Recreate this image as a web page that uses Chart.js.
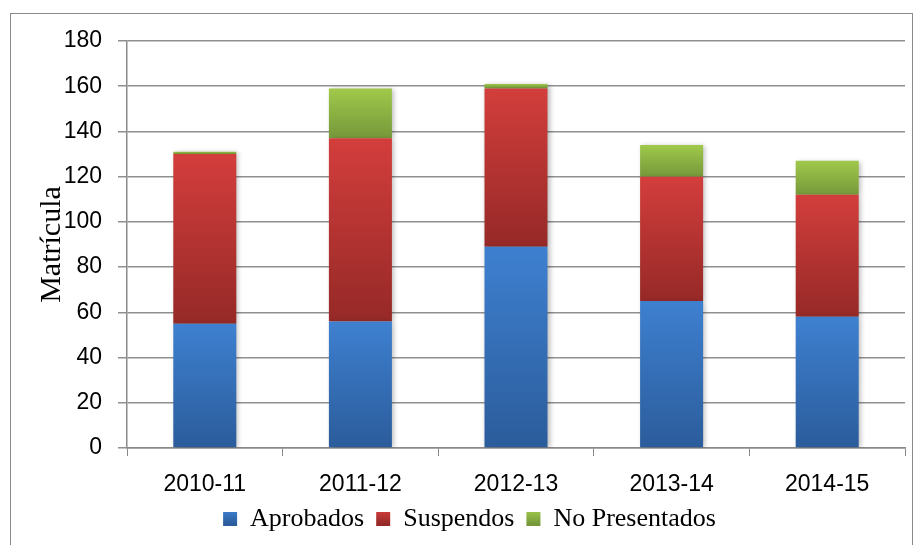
<!DOCTYPE html>
<html lang="es">
<head>
  <meta charset="UTF-8" />
  <title>Matrícula</title>
  <script src="https://cdn.jsdelivr.net/npm/chart.js"></script>
  <style>
    body { margin: 0; background: #fff; }
    #wrap { position: relative; width: 918px; height: 545px; overflow: hidden; }
    #frame { position: absolute; left: 10px; top: 13px; right: 5px; bottom: -5px; border: 1px solid #8a8a8a; pointer-events: none; }
  </style>
</head>
<body>
  <div id="wrap">
    <canvas id="chart" width="918" height="545"></canvas>
    <div id="frame"></div>
  </div>

  <script>
    const categories = ["2010-11", "2011-12", "2012-13", "2013-14", "2014-15"];
    const aprobados = [55, 56, 89, 65, 58];
    const suspendos = [75, 81, 70, 55, 54];
    const noPresentados = [1, 22, 2, 14, 15];
    const yTicks = [0, 20, 40, 60, 80, 100, 120, 140, 160, 180];

    const series = [aprobados, suspendos, noPresentados];
    const colors = [
      ["#3e80d0", "#2b5c9b"],
      ["#d33e3c", "#952927"],
      ["#a0c94b", "#76983a"]
    ];

    // gradient per segment, from the segment's own top to its bottom
    function segmentFill(k) {
      return function(ctx) {
        const chart = ctx.chart;
        if (!chart.chartArea || ctx.type !== "data") return colors[k][0];
        const i = ctx.dataIndex;
        let base = 0;
        for (let j = 0; j < k; j++) base += series[j][i];
        const top = base + series[k][i];
        const y = chart.scales.y;
        const y0 = y.getPixelForValue(top), y1 = y.getPixelForValue(base);
        if (!isFinite(y0) || !isFinite(y1) || y0 === y1) return colors[k][0];
        const g = chart.ctx.createLinearGradient(0, y0, 0, y1);
        g.addColorStop(0, colors[k][0]);
        g.addColorStop(1, colors[k][1]);
        return g;
      };
    }

    const shadow = {
      id: "shadow",
      beforeDatasetsDraw(chart) {
        const c = chart.ctx;
        c.save();
        c.shadowColor = "rgba(0,0,0,0.28)";
        c.shadowBlur = 5;
        c.shadowOffsetX = 2;
        c.shadowOffsetY = 1;
      },
      afterDatasetsDraw(chart) { chart.ctx.restore(); }
    };

    const names = ["Aprobados", "Suspendos", "No Presentados"];

    new Chart(document.getElementById("chart"), {
      type: "bar",
      data: {
        labels: categories,
        datasets: series.map((d, k) => ({
          label: names[k],
          data: d,
          backgroundColor: segmentFill(k),
          borderWidth: 0,
          categoryPercentage: 1,
          barPercentage: 0.405
        }))
      },
      plugins: [shadow],
      options: {
        responsive: false,
        animation: false,
        layout: { padding: { left: 34, right: 13, top: 41, bottom: 3 } },
        plugins: {
          tooltip: { enabled: false },
          legend: {
            position: "bottom",
            labels: {
              boxWidth: 14,
              boxHeight: 14,
              padding: 12,
              color: "#000",
              font: { family: "'Liberation Serif', 'Times New Roman', serif", size: 26 },
              generateLabels: chart => names.map((n, k) => {
                const g = chart.ctx.createLinearGradient(0, 510, 0, 524);
                g.addColorStop(0, colors[k][0]);
                g.addColorStop(1, colors[k][1]);
                return { text: n, fillStyle: g, strokeStyle: "rgba(0,0,0,0)", lineWidth: 0, datasetIndex: k, fontColor: "#000" };
              })
            }
          }
        },
        scales: {
          x: {
            stacked: true,
            afterFit: s => { s.height = 46; },
            grid: { display: true, drawOnChartArea: false, drawTicks: true, tickLength: 8, color: "#8a8a8a", offset: true },
            border: { display: true, color: "#8a8a8a", width: 1.5 },
            ticks: {
              color: "#000",
              padding: 15,
              font: { family: "'Liberation Sans', Arial, sans-serif", size: 23 }
            }
          },
          y: {
            stacked: true,
            min: 0,
            max: 180,
            afterBuildTicks: s => { s.ticks = yTicks.map(v => ({ value: v })); },
            afterFit: s => { s.width = 93; },
            grid: { color: "#8f8f8f", lineWidth: 1.5, tickLength: 9 },
            border: { display: true, color: "#8a8a8a", width: 1.5 },
            ticks: {
              color: "#000",
              padding: 16,
              font: { family: "'Liberation Sans', Arial, sans-serif", size: 23 }
            },
            title: {
              display: true,
              text: "Matrícula",
              color: "#000",
              padding: 0,
              font: { family: "'Liberation Serif', 'Times New Roman', serif", size: 30 }
            }
          }
        }
      }
    });
  </script>
</body>
</html>
